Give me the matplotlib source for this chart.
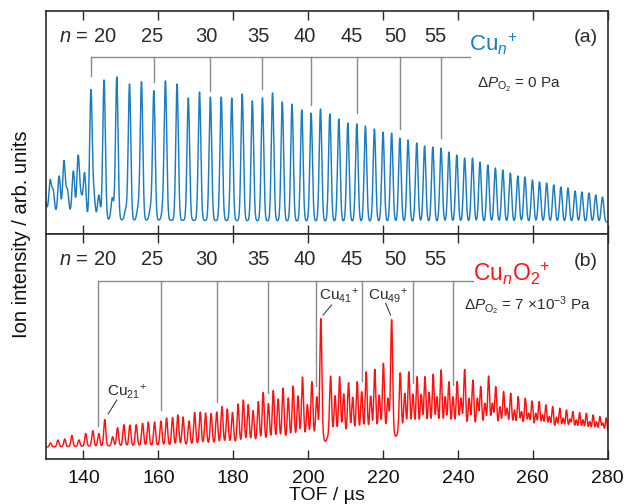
import numpy as np
import matplotlib
matplotlib.use("Agg")
import matplotlib.pyplot as plt

plt.rcParams['font.family'] = ['Liberation Sans', 'DejaVu Sans']
plt.rcParams['mathtext.fontset'] = 'custom'
plt.rcParams['mathtext.rm'] = 'Liberation Sans'
plt.rcParams['mathtext.it'] = 'Liberation Sans:italic'
plt.rcParams['mathtext.bf'] = 'Liberation Sans:bold'

# ---------------- data ----------------
# Panel (a): Cu_n+ main peaks, n = 20..77 (TOF in us, apex intensity arb.)
cu_n = list(range(20, 78))
cu_tof = [142.0, 145.5, 148.9, 152.3, 155.5, 158.8, 161.9, 165.0, 168.0, 171.0,
          173.9, 176.8, 179.6, 182.4, 185.1, 187.8, 190.5, 193.1, 195.7, 198.3,
          200.8, 203.3, 205.8, 208.2, 210.6, 213.0, 215.3, 217.7, 220.0, 222.3,
          224.5, 226.7, 229.0, 231.1, 233.3, 235.5, 237.6, 239.7, 241.8, 243.9,
          245.9, 248.0, 250.0, 252.0, 254.0, 256.0, 257.9, 259.9, 261.8, 263.7,
          265.6, 267.5, 269.4, 271.3, 273.1, 275.0, 276.8, 278.6]
cu_int = [143, 154, 157, 150, 152, 143, 152, 150, 136, 142,
          137, 137, 136, 140, 133, 136, 141, 132, 130, 124,
          121, 125, 120, 115, 111, 110, 108, 105, 102, 101,
          96, 94, 91, 88, 87, 86, 82, 79, 76, 76,
          72, 69, 66, 64, 61, 58, 57, 54, 52, 51,
          49, 47, 46, 43, 42, 41, 39, 37]
# Panel (a): minor peaks
minor_tof = [129.8, 131.1, 131.9, 133.5, 134.8, 135.7, 137.3, 138.6, 139.4, 140.3,
             142.8, 144.1, 147.7, 151.3, 154.6, 157.9, 161.2]
minor_int = [34, 53, 43, 58, 73, 44, 63, 78, 36, 61,
             37, 39, 36, 24, 26, 25, 24]
# Panel (a) background level
bga_tof = [130, 139, 141.5, 150, 200, 280]
bga_int = [21, 21, 15, 14, 13, 12]

# Panel (b): Cu_nO2+ spectrum peaks (TOF in us, apex intensity arb.)
b_tof = [131.2, 133.2, 135.0, 136.9, 138.8, 140.6, 142.5, 144.1, 145.7, 147.8,
         149.1, 150.8, 152.4, 154.1, 155.8, 157.3, 159.0, 160.7, 162.2, 163.8,
         165.2, 166.6, 168.2, 169.7, 171.2, 172.6, 174.1, 175.6, 177.0, 178.4,
         179.8, 181.3, 182.7, 184.0, 185.3, 186.7, 188.0, 189.4, 190.7, 192.0,
         193.3, 194.7, 196.0, 197.3, 198.5, 199.8, 201.0, 202.3, 203.4, 206.0,
         207.2, 208.4, 209.5, 210.8, 211.9, 213.1, 214.3, 215.5, 216.7, 217.8,
         219.0, 220.1, 221.3, 222.3, 224.6, 225.8, 226.9, 228.0, 229.1, 230.2,
         231.2, 232.3, 233.4, 234.4, 235.5, 236.6, 237.6, 238.7, 239.8, 240.8,
         241.8, 243.0, 244.0, 245.2, 246.1, 247.2, 248.2, 249.2, 250.1, 251.2,
         252.2, 253.1, 254.1, 255.1, 256.1, 257.0, 258.0, 258.9, 259.8, 260.8,
         261.7, 262.6, 263.5, 264.4, 265.3, 266.3, 267.2, 268.1, 269.0, 269.9,
         270.7, 271.6, 272.5, 273.4, 274.3, 275.2, 276.1, 277.0, 277.9, 278.7,
         279.6]
b_int = [15.5, 18.5, 19.5, 23, 18.5, 25, 27.8, 25, 39, 21.8,
         30.7, 33.8, 33.5, 33.8, 35.2, 36.3, 36.5, 37.5, 40.5, 41,
         43.5, 41.5, 37.5, 46, 46.5, 45.5, 45, 46.5, 51.8, 49.5,
         46.2, 54.5, 58.5, 54, 48, 57, 66, 55, 68, 59.5,
         70.5, 60.5, 72.5, 62.5, 81.5, 54, 76.8, 61.8, 140, 82.5,
         62.8, 81.8, 64.5, 75.8, 61.2, 76.8, 66.8, 86.8, 62.5, 89.2,
         63.5, 95.2, 60.2, 139.2, 85.8, 65.2, 86.8, 64.5, 81.8, 64.2,
         81.8, 66.2, 84.2, 61.8, 88.5, 61.8, 76.8, 61.8, 77, 60.5,
         89.2, 60.2, 78.5, 60.2, 71.8, 55.2, 82.5, 55.2, 71.8, 51.8,
         66.8, 50.2, 65.2, 48.5, 61.8, 46.8, 60.2, 45.2, 57.5, 45.2,
         56.8, 43.5, 53.5, 41.8, 51.8, 41.2, 50.2, 40.2, 48.5, 39.2,
         46.8, 38.5, 45.8, 38.5, 45.2, 36.8, 43.5, 36.8, 41.8, 35.2,
         40.5]
# Panel (b): detector dips after the strong Cu41+ / Cu49+ peaks
dip_tof = [204.6, 223.4]
dip_depth = [6, 5]
# Panel (b) background level
bgb_tof = [130, 150, 165, 185, 198, 215, 240, 250, 262, 280]
bgb_int = [11.5, 13, 13.5, 17, 21.5, 26, 30, 30.5, 27, 23]

# Marker (bracket) annotations
mark_n = [20, 25, 30, 35, 40, 45, 50, 55]
mark_a_tof = [142.0, 158.8, 173.9, 187.8, 200.8, 213.0, 224.5, 235.5]
mark_a_end = [158, 151.7, 143.3, 144.7, 129, 121.3, 104.7, 95.7]
mark_b_tof = [144.0, 160.7, 175.7, 189.3, 202.2, 214.3, 228.0, 238.7]
mark_b_end = [32.5, 48.5, 56.8, 65.2, 72.5, 77.5, 75.2, 73.5]
label_tof = [148.9, 158.3, 172.8, 186.6, 199.0, 211.6, 223.4, 234.0]

# ---------------- build curves ----------------
t = np.linspace(130, 280, 4000)

def spectrum(pos, amp_apex, bg_t, bg_v, sigma):
    bg = np.interp(t, bg_t, bg_v)
    y = bg.copy()
    for p, a in zip(pos, amp_apex):
        h = a - np.interp(p, bg_t, bg_v)
        y += h * np.exp(-0.5 * ((t - p) / sigma) ** 2)
    return y

ya = spectrum(cu_tof + minor_tof, cu_int + minor_int, bga_tof, bga_int, 0.34)
yb = spectrum(b_tof, b_int, bgb_tof, bgb_int, 0.27)
for p, d in zip(dip_tof, dip_depth):
    yb -= d * np.exp(-0.5 * ((t - p) / 0.45) ** 2)

blue = '#1a7cc4'
red = '#ff1010'
gray = '#8c8c8c'
dark = '#2a2a2a'

fig = plt.figure(figsize=(6.3, 5.04), dpi=100)
W, H = 630.0, 504.0
x0, x1 = 46 / W, 607.7 / W
ax1 = fig.add_axes([x0, 1 - 234 / H, x1 - x0, (234 - 10.5) / H])
ax2 = fig.add_axes([x0, 1 - 458.5 / H, x1 - x0, (458.5 - 234) / H], sharex=ax1)

ax1.plot(t, ya, color=blue, lw=1.05)
ax2.plot(t, yb, color=red, lw=1.05)

ax1.set_xlim(130, 280)
ax1.set_ylim(0, 223.5)
ax2.set_ylim(0, 224.5)

for ax in (ax1, ax2):
    ax.set_yticks([])
    ax.set_xticks(range(140, 281, 20))
    ax.tick_params(axis='x', direction='in', top=True, bottom=True,
                   length=6.5, width=1.0, color=dark, labelsize=14,
                   labelcolor='#111111', pad=8.5)
    for s in ax.spines.values():
        s.set_linewidth(1.2)
        s.set_color(dark)
ax1.tick_params(axis='x', labelbottom=False)

# brackets
def brackets(ax, xs, ends, ybar, xend):
    ax.plot([xs[0], xend], [ybar, ybar], color=gray, lw=1.0)
    for x, e in zip(xs, ends):
        ax.plot([x, x], [ybar, e], color=gray, lw=1.0)

brackets(ax1, mark_a_tof, mark_a_end, 177.3, 243.2)
brackets(ax2, mark_b_tof, mark_b_end, 177.8, 243.9)

for ax, ylab in ((ax1, 197.3), (ax2, 198.5)):
    ax.text(label_tof[0], ylab, r'$n$ = 20', ha='right', va='center',
            fontsize=14.5, color=dark)
    for x, n in zip(label_tof[1:], mark_n[1:]):
        ax.text(x, ylab, str(n), ha='center', va='center', fontsize=14.5,
                color=dark)

ax1.text(243.0, 182.3, r'Cu$_{n}$$^{+}$', color=blue, fontsize=16,
         ha='left', va='baseline')
ax1.text(274.1, 196, '(a)', ha='center', va='center', fontsize=14, color=dark)
ax1.text(245.2, 145.7, r'$\Delta P_{\mathrm{O}_2}$ = 0 Pa', ha='left',
         va='baseline', fontsize=11, color=dark)

ax2.text(244.0, 177.8, r'Cu$_{n}$O$_{2}$$^{+}$', color=red, fontsize=16.5,
         ha='left', va='baseline')
ax2.text(274.1, 196.8, '(b)', ha='center', va='center', fontsize=14, color=dark)
ax2.text(241.6, 148.5, r'$\Delta P_{\mathrm{O}_2}$ = 7 $\times$10$^{-3}$ Pa',
         ha='left', va='baseline', fontsize=11, color=dark)

# peak labels
ax2.text(202.9, 158.5, r'Cu$_{41}$$^{+}$', ha='left', va='baseline',
         fontsize=11, color=dark)
ax2.plot([206.25, 204.0], [153.5, 143.5], color=dark, lw=0.7)
ax2.text(216.0, 158.5, r'Cu$_{49}$$^{+}$', ha='left', va='baseline',
         fontsize=11, color=dark)
ax2.plot([220.7, 222.0], [155.2, 143.5], color=dark, lw=0.7)
ax2.text(146.2, 62.5, r'Cu$_{21}$$^{+}$', ha='left', va='baseline',
         fontsize=11, color=dark)
ax2.plot([148.9, 146.6], [58.5, 44.5], color=dark, lw=0.7)

ax2.set_xlabel('TOF / µs', fontsize=14, color='#111111', labelpad=0)
fig.text(22 / W, 1 - 234 / H, 'Ion intensity / arb. units', rotation=90,
         ha='center', va='center', fontsize=14.5, color='#111111')

fig.savefig('out.png', dpi=100)
